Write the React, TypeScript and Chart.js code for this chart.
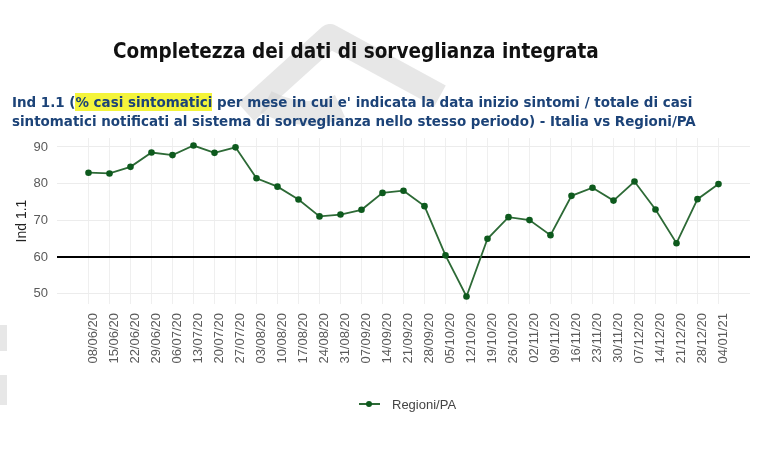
import React, { useEffect, useRef } from "react";
import { Chart, registerables } from "chart.js";

Chart.register(...registerables);

// Weekly reference dates (Monday of each week)
const weeks = [
  "08/06/20", "15/06/20", "22/06/20", "29/06/20", "06/07/20", "13/07/20",
  "20/07/20", "27/07/20", "03/08/20", "10/08/20", "17/08/20", "24/08/20",
  "31/08/20", "07/09/20", "14/09/20", "21/09/20", "28/09/20", "05/10/20",
  "12/10/20", "19/10/20", "26/10/20", "02/11/20", "09/11/20", "16/11/20",
  "23/11/20", "30/11/20", "07/12/20", "14/12/20", "21/12/20", "28/12/20",
  "04/01/21",
];

// Ind 1.1 for Regioni/PA, one value per week
const regioniPA = [
  83.0, 82.8, 84.6, 88.5, 87.8, 90.4, 88.4, 89.9, 81.5, 79.2, 75.7, 71.1,
  71.6, 72.9, 77.5, 78.1, 73.9, 60.5, 49.3, 65.0, 70.9, 70.1, 66.0, 76.7,
  78.9, 75.4, 80.6, 73.0, 63.8, 75.8, 79.9,
];

const yTicks = [50, 60, 70, 80, 90];
const threshold = 60;

const FONT = "'Liberation Sans', Arial, sans-serif";
const TITLE_FONT = "'DejaVu Sans Condensed', 'DejaVu Sans', sans-serif";
const GREEN_LINE = "#2d6a36";
const GREEN_DOT = "#0d5a1d";

export default function App() {
  const canvasRef = useRef<HTMLCanvasElement>(null);

  useEffect(() => {
    const canvas = canvasRef.current;
    if (!canvas) return;
    const chart = new Chart(canvas, {
      type: "line",
      data: {
        datasets: [
          {
            label: "Regioni/PA",
            data: regioniPA.map((y, i) => ({ x: i, y })),
            borderColor: GREEN_LINE,
            backgroundColor: GREEN_DOT,
            borderWidth: 1.8,
            pointRadius: 3.3,
            pointBorderWidth: 0,
            pointBackgroundColor: GREEN_DOT,
            tension: 0,
          },
        ],
      },
      options: {
        animation: false,
        responsive: false,
        events: [],
        layout: { padding: { top: 138, right: 17, bottom: 0, left: 10 } },
        plugins: {
          legend: { display: false },
          tooltip: { enabled: false },
        },
        scales: {
          x: {
            type: "linear",
            min: -1.5,
            max: 31.5,
            afterBuildTicks: (scale: any) => {
              scale.ticks = weeks.map((_, i) => ({ value: i }));
            },
            afterFit: (scale: any) => {
              scale.height = 453 - 304;
            },
            ticks: {
              autoSkip: false,
              minRotation: 90,
              maxRotation: 90,
              padding: 9,
              labelOffset: 5,
              color: "#5a5a5a",
              font: { family: FONT, size: 13 },
              callback: (v: any) => weeks[v] ?? "",
            },
            grid: { color: "#efefef", lineWidth: 1, drawTicks: false },
            border: { display: false },
          },
          y: {
            min: 47.25,
            max: 92.45,
            afterBuildTicks: (scale: any) => {
              scale.ticks = yTicks.map((v) => ({ value: v }));
            },
            afterFit: (scale: any) => {
              scale.width = 47;
            },
            title: {
              display: true,
              text: "Ind 1.1",
              color: "#222",
              font: { family: FONT, size: 14 },
              padding: { top: 4, bottom: 4 },
            },
            ticks: {
              padding: 9,
              color: "#5a5a5a",
              font: { family: FONT, size: 13 },
            },
            grid: {
              color: (ctx: any) => (ctx.tick && ctx.tick.value === threshold ? "#000" : "#ececec"),
              lineWidth: (ctx: any) => (ctx.tick && ctx.tick.value === threshold ? 2 : 1),
              drawTicks: false,
            },
            border: { display: false },
          },
        },
      },
    });
    return () => chart.destroy();
  }, []);

  return (
    <div
      style={{
        position: "absolute",
        left: 0,
        top: 0,
        width: 767,
        height: 453,
        background: "#fff",
        overflow: "hidden",
      }}
    >
      {/* faint publisher watermark behind the page */}
      <svg
        width={767}
        height={453}
        style={{ position: "absolute", left: 0, top: 0 }}
      >
        <g fill="none" stroke="#cfcfcf" strokeOpacity={0.5} strokeWidth={24} strokeLinejoin="round">
          <path d="M 246 112 L 330 36 L 440 96" />
          <path d="M 266 102 Q 305 122 340 106" />
        </g>
        <g fill="#d4d4d4" fillOpacity={0.55}>
          <rect x={0} y={325} width={7} height={26} />
          <rect x={0} y={375} width={7} height={30} />
        </g>
      </svg>
      <canvas
        ref={canvasRef}
        width={767}
        height={453}
        style={{ position: "absolute", left: 0, top: 0, display: "block" }}
      />
      <div
        style={{
          position: "absolute",
          left: 113,
          top: 39,
          fontFamily: TITLE_FONT,
          fontWeight: "bold",
          fontSize: 20.5,
          color: "#111",
          whiteSpace: "nowrap",
        }}
      >
        Completezza dei dati di sorveglianza integrata
      </div>
      <div
        style={{
          position: "absolute",
          left: 12,
          top: 93,
          fontFamily: TITLE_FONT,
          fontWeight: "bold",
          fontSize: 14.95,
          lineHeight: "19px",
          color: "#1c4378",
          whiteSpace: "nowrap",
        }}
      >
        <div>
          Ind 1.1 (<span style={{ background: "#f4f43a" }}>% casi sintomatici</span> per mese in cui e' indicata la data inizio sintomi / totale di casi
        </div>
        <div>sintomatici notificati al sistema di sorveglianza nello stesso periodo) - Italia vs Regioni/PA</div>
      </div>
      <div
        style={{
          position: "absolute",
          left: 359,
          top: 395,
          height: 18,
          display: "flex",
          alignItems: "center",
          fontFamily: FONT,
          fontSize: 13,
          color: "#444",
        }}
      >
        <div style={{ position: "relative", width: 21, height: 18, marginRight: 12 }}>
          <div
            style={{
              position: "absolute",
              left: 0,
              top: 8,
              width: 21,
              height: 2,
              background: GREEN_LINE,
            }}
          />
          <div
            style={{
              position: "absolute",
              left: 7,
              top: 6,
              width: 6,
              height: 6,
              borderRadius: 3,
              background: GREEN_DOT,
            }}
          />
        </div>
        <span>Regioni/PA</span>
      </div>
    </div>
  );
}
